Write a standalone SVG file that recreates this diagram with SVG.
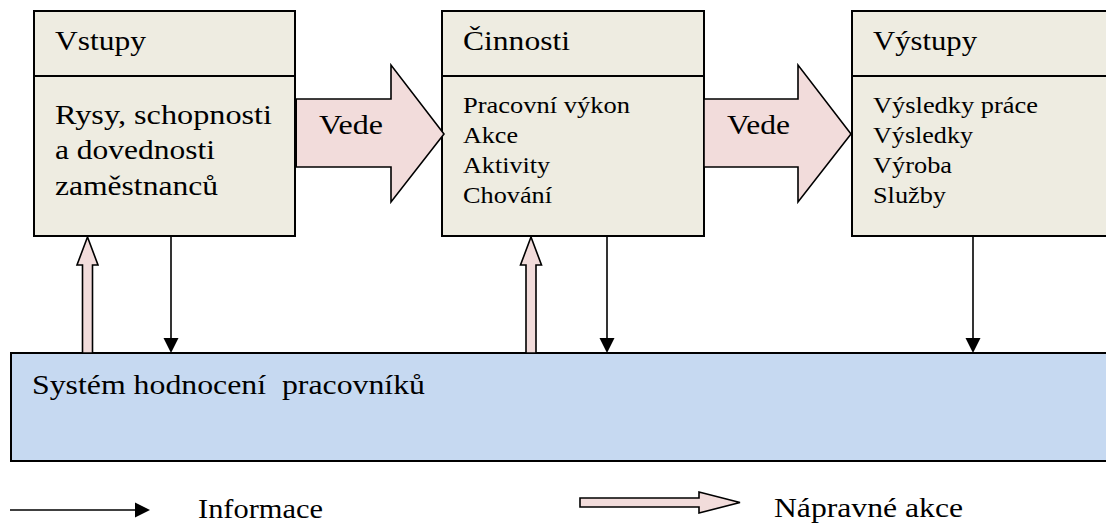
<svg xmlns="http://www.w3.org/2000/svg" width="1106" height="526" viewBox="0 0 1106 526">
<style>
.box{fill:#EEECE1;stroke:#000;stroke-width:2}
.div{stroke:#000;stroke-width:2}
.fat{fill:#F2DCDB;stroke:#000;stroke-width:1.6;stroke-linejoin:miter}
.sys{fill:#C6D9F1;stroke:#000;stroke-width:2}
.info{stroke:#000;stroke-width:1.6;fill:none}
.head{fill:#000}
.t27{font-size:27px}
.t23{font-size:23px}
</style>
<rect width="1106" height="526" fill="#fff"/>
<g font-family="Liberation Serif" fill="#000">
<g id="system">
<rect class="sys" x="11" y="353" width="1110" height="108"/>
<text class="t27" x="32" y="394" xml:space="preserve" textLength="393" lengthAdjust="spacingAndGlyphs">Systém hodnocení  pracovníků</text>
</g>
<g id="vstupy">
<rect class="box" x="34" y="11" width="261" height="225"/>
<line class="div" x1="34" y1="76" x2="295" y2="76"/>
<text class="t27" x="55" y="50" textLength="91" lengthAdjust="spacingAndGlyphs">Vstupy</text>
<text class="t27" x="55" y="124" textLength="217" lengthAdjust="spacingAndGlyphs">Rysy, schopnosti</text>
<text class="t27" x="55" y="159" textLength="160" lengthAdjust="spacingAndGlyphs">a dovednosti</text>
<text class="t27" x="55" y="195" textLength="163" lengthAdjust="spacingAndGlyphs">zaměstnanců</text>
</g>
<g id="cinnosti">
<rect class="box" x="442" y="11" width="262" height="225"/>
<line class="div" x1="442" y1="76" x2="704" y2="76"/>
<text class="t27" x="463" y="50" textLength="107" lengthAdjust="spacingAndGlyphs">Činnosti</text>
<text class="t23" x="463" y="113" textLength="167" lengthAdjust="spacingAndGlyphs">Pracovní výkon</text>
<text class="t23" x="463" y="143" textLength="55" lengthAdjust="spacingAndGlyphs">Akce</text>
<text class="t23" x="463" y="173" textLength="87" lengthAdjust="spacingAndGlyphs">Aktivity</text>
<text class="t23" x="463" y="203" textLength="89" lengthAdjust="spacingAndGlyphs">Chování</text>
</g>
<g id="vystupy">
<rect class="box" x="852" y="11" width="260" height="225"/>
<line class="div" x1="852" y1="76" x2="1112" y2="76"/>
<text class="t27" x="873" y="50" textLength="104" lengthAdjust="spacingAndGlyphs">Výstupy</text>
<text class="t23" x="873" y="113" textLength="165" lengthAdjust="spacingAndGlyphs">Výsledky práce</text>
<text class="t23" x="873" y="143" textLength="100" lengthAdjust="spacingAndGlyphs">Výsledky</text>
<text class="t23" x="873" y="173" textLength="79" lengthAdjust="spacingAndGlyphs">Výroba</text>
<text class="t23" x="873" y="203" textLength="73" lengthAdjust="spacingAndGlyphs">Služby</text>
</g>
<g id="connectors">
<g id="vede1">
<path class="fat" d="M295,99 H391 V65 L444,134 L391,202 V167 H295 Z"/>
<line x1="295.5" y1="99" x2="295.5" y2="167" stroke="#000" stroke-width="3"/>
<text class="t27" x="319" y="134" textLength="64" lengthAdjust="spacingAndGlyphs">Vede</text>
</g>
<g id="vede2">
<path class="fat" d="M704,99 H798 V65 L851,134 L798,202 V167 H704 Z"/>
<text class="t27" x="727" y="134" textLength="63" lengthAdjust="spacingAndGlyphs">Vede</text>
</g>
<path class="fat" d="M82.5,353 V265 H77 L87.5,237 L98,265 H92.5 V353 Z"/>
<path class="fat" d="M526,353 V265 H520.5 L531,237 L541.5,265 H536 V353 Z"/>
<line class="info" x1="171" y1="236" x2="171" y2="339"/>
<path class="head" d="M163.5,338 H178.5 L171,353 Z"/>
<line class="info" x1="607" y1="236" x2="607" y2="339"/>
<path class="head" d="M599.5,338 H614.5 L607,353 Z"/>
<line class="info" x1="973" y1="236" x2="973" y2="339"/>
<path class="head" d="M965.5,338 H980.5 L973,353 Z"/>
</g>
<g id="legend">
<line class="info" x1="10" y1="510" x2="137" y2="510"/>
<path class="head" d="M135,502.5 V517.5 L150,510 Z"/>
<text class="t27" x="198" y="518" textLength="125" lengthAdjust="spacingAndGlyphs">Informace</text>
<path class="fat" d="M580,498 H699 V492 L740,502.5 L699,513 V507 H580 Z"/>
<text class="t27" x="774" y="517" textLength="189" lengthAdjust="spacingAndGlyphs">Nápravné akce</text>
</g>
</g>
</svg>
